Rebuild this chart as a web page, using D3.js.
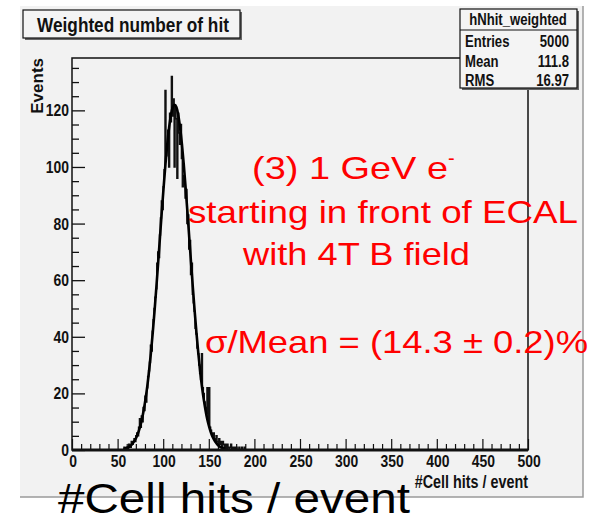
<!DOCTYPE html>
<html>
<head>
    <meta charset="utf-8">
    <script src="https://d3js.org/d3.v7.min.js"></script>
    <title>Weighted number of hit</title>
    <style>
        body { margin: 0; background: #fff; }
        .root text { font-family: "Liberation Sans", Arial, sans-serif; font-weight: bold; fill: #111; }
        .overlay text { font-family: "Liberation Sans", Arial, sans-serif; }
    </style>
</head>
<body>
<svg id="chart"></svg>
<script>
    // histogram: counts per 1-unit bin, first bin starts at binStart (all other bins are 0)
    const binStart = 55;
    const counts = [
        0, 0, 1, 0, 0,
        1, 0, 2, 1, 1, 3, 2, 3, 4, 3,
        5, 6, 5, 8, 11, 8, 12, 10, 15, 14,
        19, 17, 22, 26, 28, 31, 37, 35, 42, 46,
        50, 54, 57, 66, 70, 68, 76, 82, 88, 85,
        93, 99, 127, 104, 108, 113, 100, 119, 116, 132,
        118, 124, 100, 121, 117, 96, 119, 112, 108, 115,
        103, 93, 97, 96, 89, 92, 80, 83, 71, 74,
        62, 66, 55, 52, 49, 43, 41, 36, 34, 30,
        27, 25, 34, 22, 20, 17, 15, 13, 22, 10,
        22, 8, 7, 6, 5, 6, 4, 3, 5, 3,
        2, 4, 2, 3, 1, 3, 2, 1, 2, 0,
        2, 1, 0, 1, 2, 0, 1, 0, 1, 0,
        1, 0, 0, 1, 0, 0, 1, 0, 0, 1, 0
    ];

    // gaussian fit curve
    const fitX = [56, 58, 60, 62, 64, 66, 68, 70, 72, 74, 76, 78, 80, 82, 84, 86, 88, 90, 92, 94,
                  96, 98, 100, 102, 104, 106, 108, 110, 112, 114, 116, 118, 120, 122, 124, 126, 128, 130, 132, 134,
                  136, 138, 140, 142, 144, 146, 148, 150, 152, 154, 156, 158, 160, 162, 164, 166, 168];
    const fitY = [0.3, 0.5, 0.8, 1.1, 1.6, 2.3, 3.2, 4.4, 6.0, 8.1, 10.6, 13.9, 17.8, 22.4, 27.9, 34.2, 41.3, 49.1, 57.5, 66.3,
                  75.4, 84.4, 93.0, 101.1, 108.2, 114.0, 118.4, 121.1, 122.0, 121.1, 118.4, 114.0, 108.2, 101.1, 93.0, 84.4, 75.4, 66.3, 57.5, 49.1,
                  41.3, 34.2, 27.9, 22.4, 17.8, 13.9, 10.6, 8.1, 6.0, 4.4, 3.2, 2.3, 1.6, 1.1, 0.75, 0.5, 0.3];

    const xTicks = [0, 50, 100, 150, 200, 250, 300, 350, 400, 450, 500];
    const yTicks = [0, 20, 40, 60, 80, 100, 120];
    const statsRows = [["Entries", "5000"], ["Mean", "111.8"], ["RMS", "16.97"]];

    const width = 593, height = 520;
    const frame = {left: 72, right: 528, top: 58, bottom: 450};
    const squeeze = 0.82;   // the ROOT picture is squashed horizontally

    const svg = d3.select("#chart")
                  .attr("width", width)
                  .attr("height", height);

    const root = svg.append("g").attr("class", "root");

    // horizontally squashed bold text
    function rootText(parent, tx, ty, size, anchor, str) {
        return parent.append("text")
                     .attr("transform", `translate(${tx},${ty}) scale(${squeeze},1)`)
                     .attr("text-anchor", anchor)
                     .attr("font-size", size)
                     .text(str);
    }

    // pad background
    root.append("rect")
        .attr("x", 20).attr("y", 6)
        .attr("width", 563).attr("height", 491)
        .attr("fill", "#f2f2f2");
    root.append("path")
        .attr("d", "M583,6 V497 H20")
        .attr("fill", "none")
        .attr("stroke", "#9a9a9a")
        .attr("stroke-width", 1.5);

    const x = d3.scaleLinear().domain([0, 500]).range([frame.left, frame.right]);
    const y = d3.scaleLinear().domain([0, 138.5]).range([frame.bottom, frame.top]);

    // y axis: major ticks inward, minor every 5
    const yAxis = d3.axisRight(y)
                    .tickValues(yTicks)
                    .tickSize(13)
                    .tickFormat("");
    const yMinor = d3.axisRight(y)
                     .tickValues(d3.range(0, 136, 5).filter(v => v % 20 != 0))
                     .tickSize(7)
                     .tickFormat("");
    [yAxis, yMinor].forEach(ax => {
        root.append("g")
            .attr("transform", `translate(${frame.left},0)`)
            .call(ax)
            .call(g => g.select(".domain").remove())
            .selectAll("line").attr("stroke", "#111").attr("stroke-width", 1.3);
    });

    // x axis: major ticks every 50, minor every 10
    const xAxis = d3.axisTop(x)
                    .tickValues(xTicks)
                    .tickSize(11)
                    .tickFormat("");
    const xMinor = d3.axisTop(x)
                     .tickValues(d3.range(0, 500, 10).filter(v => v % 50 != 0))
                     .tickSize(6)
                     .tickFormat("");
    [xAxis, xMinor].forEach(ax => {
        root.append("g")
            .attr("transform", `translate(0,${frame.bottom})`)
            .call(ax)
            .call(g => g.select(".domain").remove())
            .selectAll("line").attr("stroke", "#111").attr("stroke-width", 1.2);
    });

    // tick labels
    const yLab = root.append("g");
    yTicks.forEach(d => rootText(yLab, frame.left - 3, y(d) + 6, 17, "end", d));
    const xLab = root.append("g");
    xTicks.forEach(d => rootText(xLab, x(d) + 1, frame.bottom + 17, 17, "middle", d));

    // histogram as a step outline
    const histPts = d3.range(0, 500).map(i => {
        const k = i - binStart;
        return [i, (k >= 0 && k < counts.length) ? counts[k] : 0];
    });
    histPts.push([500, 0]);
    const histLine = d3.line()
                       .x(d => x(d[0]))
                       .y(d => y(d[1]))
                       .curve(d3.curveStepAfter);
    root.append("path")
        .attr("d", histLine(histPts))
        .attr("fill", "none")
        .attr("stroke", "#111")
        .attr("stroke-width", 1.5);

    // fit curve
    const fitLine = d3.line()
                      .x((d, i) => x(fitX[i] + 0.5))
                      .y(d => y(d))
                      .curve(d3.curveMonotoneX);
    root.append("path")
        .attr("d", fitLine(fitY))
        .attr("fill", "none")
        .attr("stroke", "#000")
        .attr("stroke-width", 2.6);

    // frame
    root.append("rect")
        .attr("x", frame.left).attr("y", frame.top)
        .attr("width", frame.right - frame.left)
        .attr("height", frame.bottom - frame.top)
        .attr("fill", "none")
        .attr("stroke", "#111")
        .attr("stroke-width", 1.5);
    root.append("line")
        .attr("x1", frame.left).attr("x2", frame.right)
        .attr("y1", frame.bottom).attr("y2", frame.bottom)
        .attr("stroke", "#111")
        .attr("stroke-width", 3);

    // axis titles
    root.append("text")
        .attr("transform", `translate(43,${frame.top}) rotate(-90)`)
        .attr("text-anchor", "end")
        .attr("font-size", 17)
        .text("Events");

    rootText(root, 528, 488, 17.5, "end", "#Cell hits / event");

    // title box
    root.append("rect")
        .attr("x", 25).attr("y", 12).attr("width", 217).attr("height", 28)
        .attr("fill", "#666");
    root.append("rect")
        .attr("x", 23).attr("y", 10).attr("width", 217).attr("height", 28)
        .attr("fill", "#f4f4f4")
        .attr("stroke", "#111")
        .attr("stroke-width", 1.2);
    rootText(root, 133, 32, 21, "middle", "Weighted number of hit");

    // stats box
    const stats = root.append("g");
    stats.append("rect")
         .attr("x", 462).attr("y", 11).attr("width", 117).attr("height", 79)
         .attr("fill", "#666");
    stats.append("rect")
         .attr("x", 460).attr("y", 9).attr("width", 117).attr("height", 79)
         .attr("fill", "#f4f4f4")
         .attr("stroke", "#111")
         .attr("stroke-width", 1.2);
    stats.append("line")
         .attr("x1", 460).attr("x2", 577)
         .attr("y1", 30).attr("y2", 30)
         .attr("stroke", "#111")
         .attr("stroke-width", 1.2);
    rootText(stats, 518, 25, 16, "middle", "hNhit_weighted");
    statsRows.forEach((r, i) => {
        rootText(stats, 465, 47 + i * 19.5, 16, "start", r[0]);
        rootText(stats, 569, 47 + i * 19.5, 16, "end", r[1]);
    });

    // overlay annotations
    const overlay = svg.append("g")
                       .attr("class", "overlay")
                       .attr("fill", "#ff0000");

    const l1 = overlay.append("text")
                      .attr("x", 252).attr("y", 179)
                      .attr("font-size", 32);
    l1.append("tspan").attr("textLength", 196).attr("lengthAdjust", "spacingAndGlyphs").text("(3) 1 GeV e");
    l1.append("tspan").attr("font-size", 20).attr("dy", -14).text("-");

    overlay.append("text")
           .attr("x", 188).attr("y", 223)
           .attr("font-size", 32)
           .attr("textLength", 390)
           .attr("lengthAdjust", "spacingAndGlyphs")
           .text("starting in front of ECAL");
    overlay.append("text")
           .attr("x", 243).attr("y", 265)
           .attr("font-size", 32)
           .attr("textLength", 227)
           .attr("lengthAdjust", "spacingAndGlyphs")
           .text("with 4T B field");
    overlay.append("text")
           .attr("x", 205).attr("y", 353)
           .attr("font-size", 32)
           .attr("textLength", 383)
           .attr("lengthAdjust", "spacingAndGlyphs")
           .text("σ/Mean = (14.3 ± 0.2)%");

    svg.append("text")
       .attr("x", 58).attr("y", 513)
       .attr("font-family", "'Liberation Sans', Arial, sans-serif")
       .attr("font-size", 42)
       .attr("fill", "#000")
       .attr("textLength", 352)
       .attr("lengthAdjust", "spacingAndGlyphs")
       .text("#Cell hits / event");
</script>
</body>
</html>
